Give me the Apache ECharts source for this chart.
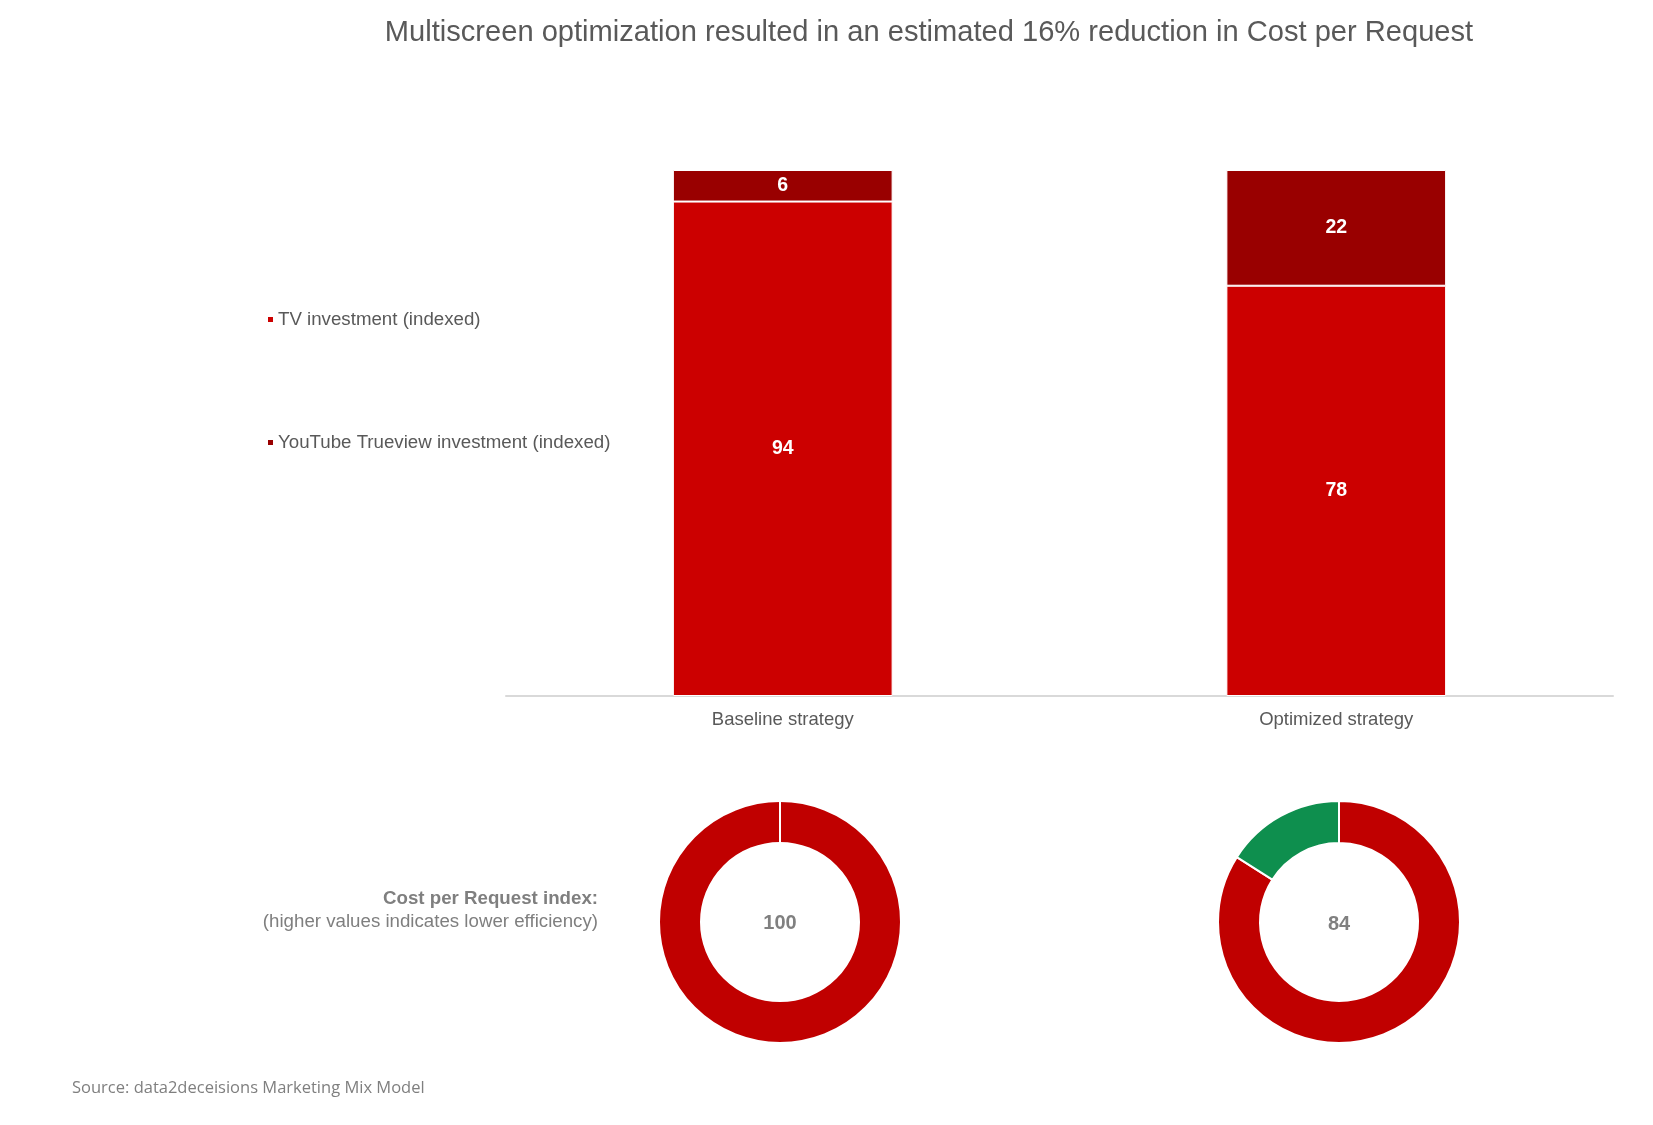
<!DOCTYPE html>
<html>
<head>
<meta charset="utf-8">
<script src="https://cdn.jsdelivr.net/npm/echarts@6/dist/echarts.min.js"></script>
<style>html,body{margin:0;padding:0;background:#fff}#c{width:1653px;height:1125px}</style>
</head>
<body>
<div id="c"></div>
<script>
// ---- data ----
var categories = ['Baseline strategy', 'Optimized strategy'];
var tvInvestment = [94, 78];
var youtubeInvestment = [6, 22];
var cprIndex = [100, 84];
var cprReduction = [0, 16];
var seriesNames = ['TV investment (indexed)', 'YouTube Trueview investment (indexed)'];
var titleText = 'Multiscreen optimization resulted in an estimated 16% reduction in Cost per Request';
var cprLabel = 'Cost per Request index:';
var cprNote = '(higher values indicates lower efficiency)';
var sourceText = 'Source: data2deceisions Marketing Mix Model';

var FONT = '"Liberation Sans", Arial, sans-serif';
var chart = echarts.init(document.getElementById('c'));

function donut(i, cx) {
  return {
    type: 'pie',
    center: [cx, 922],
    radius: [79, 121],
    startAngle: 90,
    clockwise: true,
    silent: true,
    label: {show: false},
    labelLine: {show: false},
    itemStyle: {borderColor: '#fff', borderWidth: 2},
    data: [
      {name: 'Cost per Request index', value: cprIndex[i], itemStyle: {color: '#C00000'}},
      {name: 'Reduction', value: cprReduction[i], itemStyle: {color: '#0E8F4E'}}
    ]
  };
}

chart.setOption({
  backgroundColor: '#fff',
  animation: false,
  legend: [
    {data: [seriesNames[0]], orient: 'vertical', left: 261, top: 305, itemWidth: 7, itemHeight: 7, itemGap: 5, icon: 'rect',
     textStyle: {fontFamily: FONT, fontSize: 18.7, color: '#595959', padding: [0, 0, 0, -1]}},
    {data: [seriesNames[1]], orient: 'vertical', left: 261, top: 428, itemWidth: 7, itemHeight: 7, itemGap: 5, icon: 'rect',
     textStyle: {fontFamily: FONT, fontSize: 18.7, color: '#595959', padding: [0, 0, 0, -1]}}
  ],
  grid: {left: 506, right: 40, top: 170, bottom: 429, containLabel: false},
  xAxis: {
    type: 'category',
    data: categories,
    axisLine: {lineStyle: {color: '#D9D9D9', width: 2}},
    axisTick: {show: false},
    axisLabel: {fontFamily: FONT, fontSize: 18.5, color: '#595959', margin: 14}
  },
  yAxis: {type: 'value', min: 0, max: 100, show: false},
  series: [
    {
      name: seriesNames[0], type: 'bar', stack: 'inv', barWidth: '39.7%', data: tvInvestment,
      itemStyle: {color: '#CC0000', borderColor: '#fff', borderWidth: 1},
      label: {show: true, position: 'inside', color: '#fff', fontWeight: 'bold', fontSize: 19.5, fontFamily: FONT},
      silent: true
    },
    {
      name: seriesNames[1], type: 'bar', stack: 'inv', barWidth: '39.7%', data: youtubeInvestment,
      itemStyle: {color: '#990000', borderColor: '#fff', borderWidth: 1},
      label: {show: true, position: 'inside', color: '#fff', fontWeight: 'bold', fontSize: 19.5, fontFamily: FONT},
      silent: true
    },
    donut(0, 780),
    donut(1, 1339)
  ],
  graphic: [
    {type: 'text', x: 929, y: 33, style: {text: titleText, fontFamily: FONT, fontSize: 29.1, fill: '#595959', align: 'center', verticalAlign: 'middle'}},
    {type: 'text', x: 598, y: 899, style: {text: cprLabel, fontFamily: FONT, fontSize: 18.7, fontWeight: 'bold', fill: '#7F7F7F', align: 'right', verticalAlign: 'middle'}},
    {type: 'text', x: 598, y: 922, style: {text: cprNote, fontFamily: FONT, fontSize: 18.7, fill: '#7F7F7F', align: 'right', verticalAlign: 'middle'}},
    {type: 'text', x: 780, y: 923, style: {text: String(cprIndex[0]), fontFamily: FONT, fontSize: 20, fontWeight: 'bold', fill: '#808080', align: 'center', verticalAlign: 'middle'}},
    {type: 'text', x: 1339, y: 924, style: {text: String(cprIndex[1]), fontFamily: FONT, fontSize: 20, fontWeight: 'bold', fill: '#808080', align: 'center', verticalAlign: 'middle'}},
    {type: 'text', x: 72, y: 1088, style: {text: sourceText, fontFamily: '"Open Sans", sans-serif', fontSize: 16.5, fill: '#7F7F7F', align: 'left', verticalAlign: 'middle'}}
  ]
});
</script>
</body>
</html>
